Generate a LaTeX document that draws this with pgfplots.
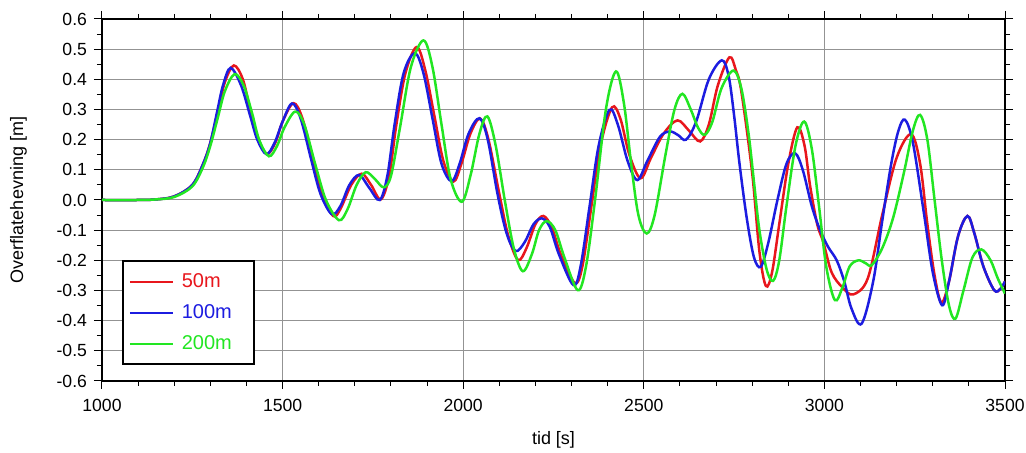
\documentclass[border=0pt]{standalone}
\usepackage{fontspec}
\setmainfont{Liberation Sans}
\usepackage{pgfplots}
\pgfplotsset{compat=1.18}
\definecolor{cRed}{HTML}{E8161C}
\definecolor{cBlue}{HTML}{1C1CE0}
\definecolor{cGreen}{HTML}{22E622}
\begin{document}
\begin{tikzpicture}
\begin{axis}[
  scale only axis,
  width=451.5pt,height=181pt,
  xmin=1000,xmax=3500,ymin=-0.6,ymax=0.6,
  xtick={1000,1500,...,3500},
  ytick={-0.6,-0.5,...,0.6},
  minor x tick num=4,
  minor y tick num=1,
  tick align=outside,
  major tick length=4pt,
  minor tick length=2.5pt,
  xticklabel style={/pgf/number format/1000 sep={},yshift=-1.5pt},
  yticklabel style={/pgf/number format/fixed,/pgf/number format/fixed zerofill,/pgf/number format/precision=1},
  /pgf/number format/assume math mode=true,
  tick label style={font=\fontsize{8.8}{10}\selectfont},
  label style={font=\fontsize{9}{10}\selectfont},
  xlabel={tid [s]},
  ylabel={Overflatehevning [m]},
  xlabel style={yshift=-3pt},
  ylabel style={yshift=8pt},
  grid=major,
  grid style={gray!85,line width=0.5pt},
  axis line style={line width=1.2pt},
  every tick/.style={black,line width=0.5pt},
  legend cell align=left,
  legend style={at={(0.022,0.044)},anchor=south west,draw=black,line width=0.9pt,
    font=\fontsize{10}{12}\selectfont,row sep=3pt,inner xsep=3pt,inner ysep=4pt},
  legend image code/.code={\draw[#1,line width=1pt] (0pt,0pt) -- (21.5pt,0pt);},
]
\addplot[cRed,line width=1.25pt,smooth,tension=0.55] coordinates {
(1000,0)(1100,0)(1150,0.002)(1200,0.012)(1250,0.05)(1280,0.12)(1300,0.19)(1320,0.29)(1340,0.39)(1365,0.446)
(1390,0.40)(1410,0.30)(1430,0.21)(1456,0.152)(1480,0.19)(1500,0.26)(1530,0.321)(1555,0.27)(1585,0.13)(1610,0.02)
(1640,-0.053)(1660,-0.03)(1690,0.05)(1719,0.087)(1745,0.05)(1772,0.002)(1795,0.08)(1815,0.25)(1840,0.42)(1871,0.507)
(1895,0.43)(1920,0.28)(1945,0.13)(1973,0.061)(1995,0.12)(2020,0.22)(2047,0.27)(2070,0.20)(2100,0.02)(2125,-0.12)
(2152,-0.199)(2175,-0.16)(2200,-0.08)(2222,-0.053)(2245,-0.09)(2270,-0.18)(2309,-0.275)(2330,-0.22)(2355,-0.02)(2380,0.18)
(2412,0.307)(2435,0.27)(2460,0.15)(2491,0.072)(2520,0.14)(2555,0.22)(2593,0.264)(2625,0.23)(2656,0.194)(2680,0.25)
(2705,0.38)(2737,0.473)(2755,0.43)(2770,0.36)(2800,0.09)(2820,-0.17)(2838,-0.285)(2855,-0.24)(2875,-0.08)(2900,0.12)
(2925,0.241)(2945,0.18)(2960,0.05)(2980,-0.08)(2997,-0.14)(3020,-0.24)(3050,-0.29)(3080,-0.313)(3120,-0.26)(3160,-0.05)
(3200,0.14)(3240,0.218)(3265,0.12)(3285,-0.08)(3305,-0.25)(3324,-0.34)(3345,-0.27)(3370,-0.12)(3396,-0.053)(3415,-0.11)
(3440,-0.22)(3470,-0.299)(3487,-0.295)(3500,-0.27)};
\addlegendentry{\hspace*{2pt}\textcolor{cRed}{50m}\hspace*{6pt}}
\addplot[cBlue,line width=1.25pt,smooth,tension=0.55] coordinates {
(1000,0)(1100,0)(1150,0.002)(1200,0.012)(1250,0.05)(1280,0.12)(1300,0.19)(1320,0.30)(1335,0.38)(1356,0.438)
(1385,0.38)(1410,0.28)(1430,0.20)(1455,0.152)(1478,0.19)(1500,0.26)(1526,0.32)(1550,0.27)(1580,0.13)(1605,0.02)
(1636,-0.047)(1660,-0.02)(1685,0.05)(1712,0.083)(1740,0.04)(1769,0.0)(1790,0.08)(1810,0.25)(1835,0.42)(1866,0.487)
(1890,0.42)(1915,0.27)(1940,0.12)(1968,0.062)(1990,0.12)(2015,0.22)(2045,0.271)(2068,0.20)(2095,0.02)(2120,-0.11)
(2145,-0.169)(2170,-0.14)(2195,-0.08)(2218,-0.061)(2240,-0.09)(2265,-0.18)(2305,-0.282)(2325,-0.22)(2350,-0.02)(2375,0.18)
(2405,0.299)(2428,0.25)(2455,0.13)(2482,0.066)(2510,0.13)(2545,0.21)(2573,0.227)(2595,0.215)(2617,0.20)(2645,0.26)
(2680,0.40)(2716,0.463)(2735,0.41)(2750,0.28)(2765,0.12)(2785,-0.06)(2805,-0.19)(2824,-0.221)(2845,-0.14)(2870,0.0)
(2895,0.12)(2919,0.155)(2940,0.10)(2965,-0.02)(2988,-0.10)(3010,-0.155)(3034,-0.20)(3055,-0.27)(3075,-0.36)(3103,-0.41)
(3135,-0.27)(3160,-0.07)(3185,0.12)(3205,0.23)(3223,0.266)(3245,0.19)(3275,-0.04)(3300,-0.24)(3326,-0.349)(3345,-0.27)
(3370,-0.12)(3396,-0.053)(3415,-0.11)(3440,-0.22)(3470,-0.299)(3487,-0.295)(3500,-0.27)};
\addlegendentry{\hspace*{2pt}\textcolor{cBlue}{100m}\hspace*{6pt}}
\addplot[cGreen,line width=1.25pt,smooth,tension=0.55] coordinates {
(1000,0)(1100,0)(1150,0.002)(1200,0.01)(1250,0.045)(1280,0.11)(1300,0.18)(1320,0.27)(1340,0.36)(1367,0.417)
(1392,0.38)(1415,0.29)(1435,0.20)(1462,0.145)(1485,0.18)(1505,0.24)(1535,0.293)(1560,0.25)(1590,0.12)(1620,0.0)
(1656,-0.067)(1680,-0.03)(1705,0.05)(1730,0.092)(1755,0.07)(1780,0.042)(1800,0.08)(1825,0.24)(1855,0.44)(1890,0.529)
(1915,0.44)(1940,0.25)(1965,0.07)(1996,-0.006)(2020,0.08)(2045,0.22)(2067,0.277)(2090,0.18)(2115,0.0)(2140,-0.16)
(2165,-0.236)(2190,-0.18)(2210,-0.10)(2231,-0.07)(2255,-0.10)(2280,-0.19)(2317,-0.299)(2340,-0.22)(2365,0.0)(2395,0.30)
(2423,0.426)(2445,0.32)(2465,0.12)(2485,-0.05)(2508,-0.111)(2530,-0.05)(2560,0.15)(2585,0.30)(2607,0.352)(2630,0.30)
(2650,0.24)(2669,0.216)(2690,0.26)(2715,0.37)(2748,0.429)(2770,0.37)(2790,0.22)(2805,0.06)(2820,-0.10)(2840,-0.23)
(2858,-0.268)(2875,-0.20)(2895,-0.02)(2920,0.18)(2944,0.26)(2965,0.17)(2985,-0.02)(3005,-0.22)(3029,-0.332)(3050,-0.29)
(3070,-0.22)(3094,-0.20)(3115,-0.21)(3131,-0.216)(3160,-0.16)(3190,-0.06)(3220,0.09)(3245,0.23)(3265,0.282)(3285,0.20)
(3305,0.0)(3325,-0.20)(3345,-0.35)(3363,-0.393)(3385,-0.30)(3410,-0.19)(3435,-0.164)(3460,-0.20)(3480,-0.26)(3500,-0.31)};
\addlegendentry{\hspace*{2pt}\textcolor{cGreen}{200m}\hspace*{6pt}}
\end{axis}
\pgfresetboundingbox
\path[use as bounding box] ([shift={(-51pt,-36pt)}]current axis.south west) rectangle ([shift={(10.5pt,9.5pt)}]current axis.north east);
\end{tikzpicture}
\end{document}
